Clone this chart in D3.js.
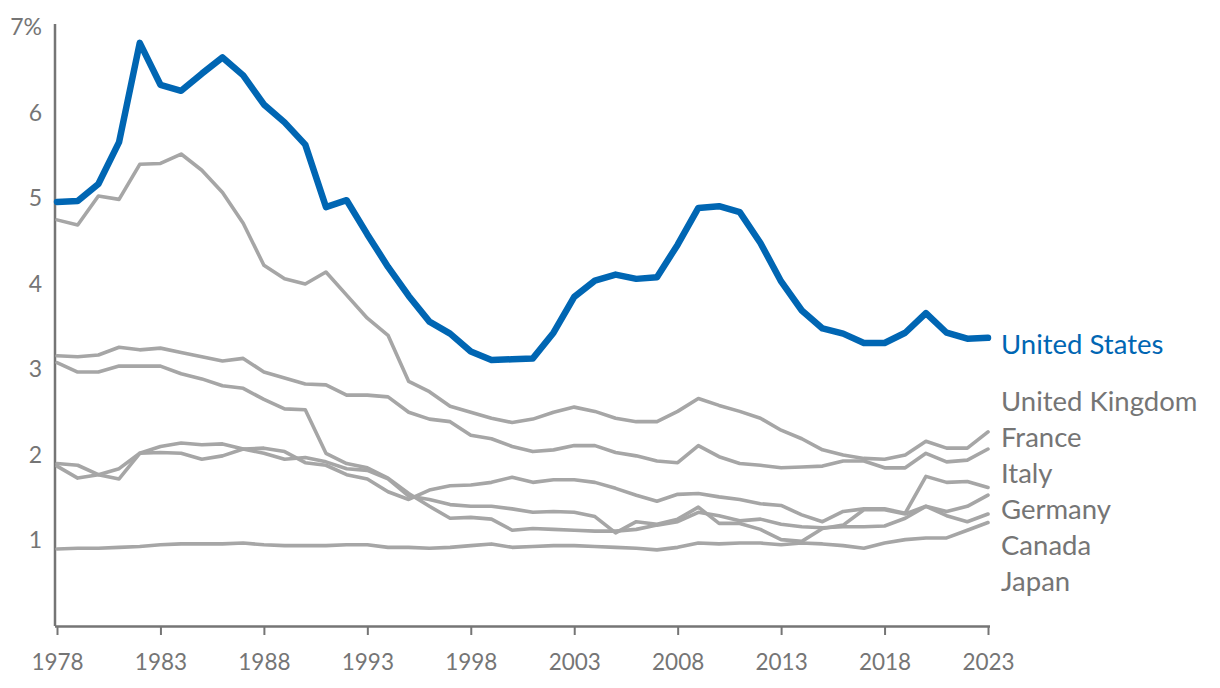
<!DOCTYPE html>
<html>
<head>
<meta charset="utf-8">
<script src="https://cdn.jsdelivr.net/npm/d3@7"></script>
<style>
  html, body { margin: 0; padding: 0; background: #fff; }
  svg { display: block; font-family: Lato, "Noto Sans", sans-serif; }
</style>
</head>
<body>
<svg id="chart" width="1220" height="688"></svg>
<script>
const years = d3.range(1978, 2024);
const xTickYears = [1978, 1983, 1988, 1993, 1998, 2003, 2008, 2013, 2018, 2023];
const yTicks = [1, 2, 3, 4, 5, 6, 7];

const unitedStates = [4.96, 4.97, 5.17, 5.66, 6.82, 6.33, 6.26, 6.46, 6.65, 6.44, 6.10, 5.89, 5.63, 4.90, 4.98, 4.58, 4.20, 3.86, 3.56, 3.42, 3.21, 3.11, 3.12, 3.13, 3.43, 3.85, 4.04, 4.11, 4.06, 4.08, 4.46, 4.89, 4.91, 4.84, 4.48, 4.03, 3.69, 3.48, 3.42, 3.31, 3.31, 3.43, 3.66, 3.43, 3.36, 3.37];
const unitedKingdom = [4.75, 4.69, 5.03, 4.99, 5.40, 5.41, 5.52, 5.33, 5.07, 4.71, 4.22, 4.06, 4.00, 4.14, 3.87, 3.60, 3.40, 2.86, 2.74, 2.57, 2.50, 2.43, 2.38, 2.42, 2.50, 2.56, 2.51, 2.43, 2.39, 2.39, 2.51, 2.66, 2.58, 2.51, 2.43, 2.29, 2.19, 2.06, 2.00, 1.96, 1.95, 2.00, 2.16, 2.08, 2.08, 2.27];
const france = [3.16, 3.15, 3.17, 3.26, 3.23, 3.25, 3.20, 3.15, 3.10, 3.13, 2.97, 2.90, 2.83, 2.82, 2.70, 2.70, 2.68, 2.50, 2.42, 2.39, 2.23, 2.19, 2.10, 2.04, 2.06, 2.11, 2.11, 2.03, 1.99, 1.93, 1.91, 2.11, 1.98, 1.90, 1.88, 1.85, 1.86, 1.87, 1.93, 1.93, 1.85, 1.85, 2.02, 1.92, 1.94, 2.07];
const italy = [1.90, 1.88, 1.77, 1.72, 2.02, 2.10, 2.14, 2.12, 2.13, 2.07, 2.08, 2.04, 1.91, 1.88, 1.77, 1.72, 1.57, 1.48, 1.59, 1.64, 1.65, 1.68, 1.74, 1.68, 1.71, 1.71, 1.68, 1.61, 1.53, 1.46, 1.54, 1.55, 1.51, 1.48, 1.43, 1.41, 1.30, 1.22, 1.34, 1.37, 1.37, 1.32, 1.75, 1.68, 1.69, 1.62];
const germany = [3.08, 2.97, 2.97, 3.04, 3.04, 3.04, 2.95, 2.89, 2.81, 2.78, 2.65, 2.54, 2.53, 2.02, 1.90, 1.85, 1.73, 1.55, 1.40, 1.26, 1.27, 1.25, 1.12, 1.14, 1.13, 1.12, 1.11, 1.11, 1.13, 1.18, 1.22, 1.33, 1.29, 1.23, 1.25, 1.19, 1.16, 1.15, 1.16, 1.16, 1.17, 1.26, 1.40, 1.34, 1.40, 1.53];
const canada = [1.87, 1.73, 1.77, 1.84, 2.02, 2.03, 2.02, 1.95, 1.99, 2.07, 2.02, 1.95, 1.97, 1.92, 1.84, 1.82, 1.72, 1.52, 1.48, 1.42, 1.40, 1.40, 1.37, 1.33, 1.34, 1.33, 1.28, 1.09, 1.22, 1.19, 1.25, 1.39, 1.20, 1.20, 1.13, 1.01, 0.99, 1.14, 1.18, 1.36, 1.36, 1.31, 1.40, 1.29, 1.22, 1.31];
const japan = [0.90, 0.91, 0.91, 0.92, 0.93, 0.95, 0.96, 0.96, 0.96, 0.97, 0.95, 0.94, 0.94, 0.94, 0.95, 0.95, 0.92, 0.92, 0.91, 0.92, 0.94, 0.96, 0.92, 0.93, 0.94, 0.94, 0.93, 0.92, 0.91, 0.89, 0.92, 0.97, 0.96, 0.97, 0.97, 0.95, 0.97, 0.96, 0.94, 0.91, 0.97, 1.01, 1.03, 1.03, 1.12, 1.21];

const grayNames = ["United Kingdom", "France", "Italy", "Germany", "Canada", "Japan"];
const grayValues = [unitedKingdom, france, italy, germany, canada, japan];

const BLUE = "#0066b3";
const GRAY = "#a6a6a6";
const TEXT = "#757575";
const AXIS = "#757575";

const svg = d3.select("#chart");
const x = d3.scaleLinear().domain([1978, 2023]).range([57, 988]);
const y = d3.scaleLinear().domain([0, 7]).range([626, 27.5]);

// Axes
const xAxis = d3.axisBottom(x).tickValues(xTickYears).tickFormat(d3.format("d")).tickSize(9).tickSizeOuter(0);
const gx = svg.append("g").attr("transform", `translate(0,${y(0)})`).call(xAxis);
gx.select(".domain").attr("d", `M55,0.5H990`).attr("stroke", AXIS).attr("stroke-width", 2.5);
gx.selectAll(".tick line").attr("stroke", AXIS).attr("stroke-width", 2);
gx.selectAll(".tick text").attr("fill", TEXT).attr("font-size", 22.5).attr("dy", 0).attr("y", 44)
  .attr("font-family", "Lato, sans-serif");

const yAxis = d3.axisLeft(y).tickValues(yTicks).tickFormat(d => d === 7 ? "7%" : d).tickSize(0).tickPadding(13);
const gy = svg.append("g").attr("transform", `translate(55,0)`).call(yAxis);
gy.select(".domain").attr("d", `M0,${y(0)}V24`).attr("stroke", AXIS).attr("stroke-width", 2.5);
gy.selectAll(".tick text").attr("fill", TEXT).attr("font-size", 23).attr("font-family", "Lato, sans-serif");

const line = d3.line().x((d, i) => x(years[i])).y(d => y(d));

// Gray lines
grayValues.forEach(vals => {
  svg.append("path").datum(vals).attr("d", line)
    .attr("fill", "none").attr("stroke", GRAY).attr("stroke-width", 3.6)
    .attr("stroke-linejoin", "round").attr("stroke-linecap", "round");
});

// US line
svg.append("path").datum(unitedStates).attr("d", line)
  .attr("fill", "none").attr("stroke", BLUE).attr("stroke-width", 6.5)
  .attr("stroke-linejoin", "round").attr("stroke-linecap", "round");

// Labels
const labelX = x(2023) + 13;
const offset = 11;
const labelSize = 27.5;
svg.append("text").attr("x", labelX).attr("y", y(unitedStates[unitedStates.length - 1]) + offset - 2)
  .attr("dominant-baseline", "middle").attr("fill", BLUE).attr("font-size", labelSize).text("United States");

// dodge gray labels
const gap = 36;
let labels = grayNames.map((n, i) => ({ name: n, pos: y(grayValues[i][grayValues[i].length - 1]) + offset }));
labels.sort((a, b) => a.pos - b.pos);
for (let iter = 0; iter < 300; iter++) {
  for (let i = 0; i < labels.length - 1; i++) {
    const a = labels[i], b = labels[i + 1];
    const ov = gap - (b.pos - a.pos);
    if (ov > 0) { a.pos -= ov / 2; b.pos += ov / 2; }
  }
}
labels.forEach(l => {
  svg.append("text").attr("x", labelX).attr("y", l.pos)
    .attr("dominant-baseline", "middle").attr("fill", TEXT).attr("font-size", labelSize).text(l.name);
});
</script>
</body>
</html>
